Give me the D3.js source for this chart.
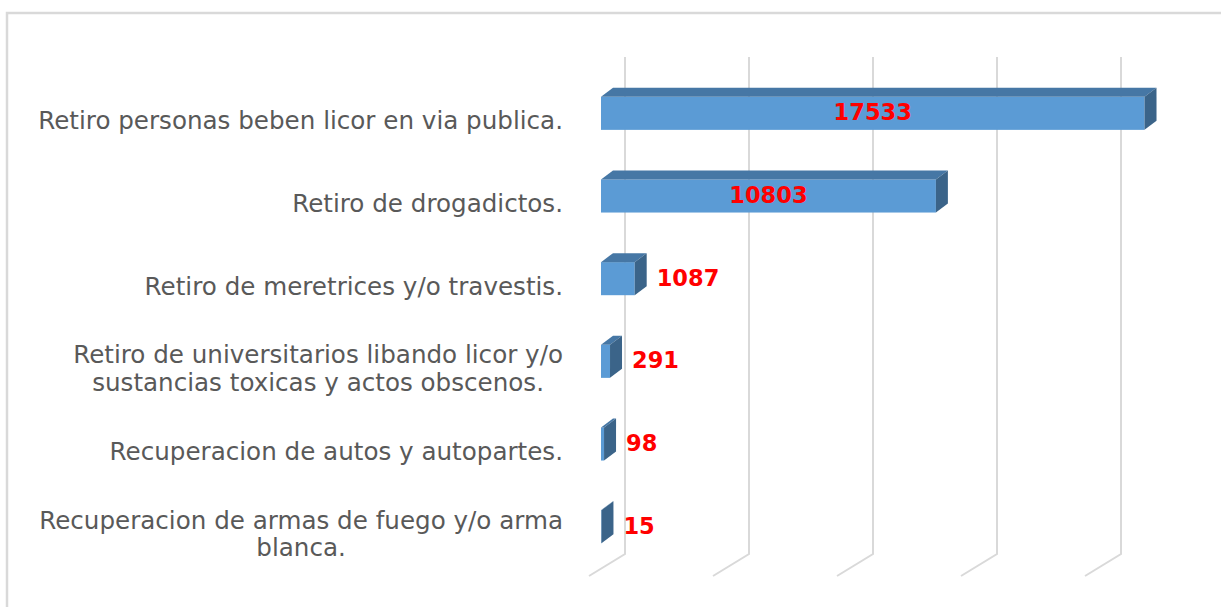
<!DOCTYPE html>
<html>
<head>
<meta charset="utf-8">
<script src="https://cdn.jsdelivr.net/npm/d3@7"></script>
<style>
  body { margin: 0; background: #fff; }
</style>
</head>
<body>
<div id="chart"></div>
<script>
// Datos del grafico (de arriba hacia abajo)
const categorias = [
    ["Retiro personas beben licor en via publica."],
    ["Retiro de drogadictos."],
    ["Retiro de meretrices y/o travestis."],
    ["Retiro de universitarios libando licor y/o", "sustancias toxicas y actos obscenos."],
    ["Recuperacion de autos y autopartes."],
    ["Recuperacion de armas de fuego y/o arma", "blanca."]
];
const valores = [17533, 10803, 1087, 291, 98, 15];
const ticksX = [0, 4000, 8000, 12000, 16000];

const width = 1221, height = 607;

const svg = d3.select("#chart")
    .append("svg")
    .attr("width", width)
    .attr("height", height);

// marco del grafico
svg.append("rect")
    .attr("x", 7).attr("y", 13)
    .attr("width", 1300).attr("height", 700)
    .attr("fill", "none")
    .attr("stroke", "#d9d9d9")
    .attr("stroke-width", 2.5);

// escala sobre la pared del fondo
const xScale = d3.scaleLinear().domain([0, 16000]).range([625, 1121]);
const yScale = d3.scaleBand()
    .domain(d3.range(categorias.length))
    .range([72, 568])
    .paddingInner(0.6)
    .paddingOuter(0.3);

// desplazamientos de la perspectiva
const frente = { dx: -24 };          // cara frontal de las barras respecto al fondo
const prof = { dx: 12, dy: -9 };     // profundidad de la barra
const piso = { dx: -36, dy: 22 };    // profundidad del piso
const paredTop = 57, paredBottom = 554;

// lineas de division
svg.append("g")
    .selectAll("path")
    .data(ticksX)
    .enter()
    .append("path")
    .attr("d", d => {
        const x = xScale(d);
        return `M${x},${paredTop}L${x},${paredBottom}L${x + piso.dx},${paredBottom + piso.dy}`;
    })
    .attr("fill", "none")
    .attr("stroke", "#d9d9d9")
    .attr("stroke-width", 2);

// barras 3D
const barras = svg.append("g")
    .selectAll("g")
    .data(valores)
    .enter()
    .append("g");

const geo = (d, i) => {
    const x0 = xScale(0) + frente.dx;
    const x1 = xScale(d) + frente.dx;
    const y0 = yScale(i);
    const y1 = y0 + yScale.bandwidth();
    return { x0, x1, y0, y1 };
};

barras.append("rect")
    .attr("x", (d, i) => geo(d, i).x0)
    .attr("y", (d, i) => geo(d, i).y0)
    .attr("width", (d, i) => geo(d, i).x1 - geo(d, i).x0)
    .attr("height", yScale.bandwidth())
    .attr("fill", "#5b9bd5");

barras.append("polygon")
    .attr("points", (d, i) => {
        const g = geo(d, i);
        return [[g.x0, g.y0], [g.x1, g.y0], [g.x1 + prof.dx, g.y0 + prof.dy], [g.x0 + prof.dx, g.y0 + prof.dy]].join(" ");
    })
    .attr("fill", "#4677a5");

barras.append("polygon")
    .attr("points", (d, i) => {
        const g = geo(d, i);
        return [[g.x1, g.y0], [g.x1 + prof.dx, g.y0 + prof.dy], [g.x1 + prof.dx, g.y1 + prof.dy], [g.x1, g.y1]].join(" ");
    })
    .attr("fill", "#3b6489");

// etiquetas de datos
svg.append("g")
    .selectAll("text")
    .data(valores)
    .enter()
    .append("text")
    .attr("x", (d, i) => {
        const g = geo(d, i);
        return d > 5000 ? (g.x0 + g.x1) / 2 : g.x1 + 22;
    })
    .attr("y", (d, i) => yScale(i) + yScale.bandwidth() / 2 - 1)
    .attr("dy", "0.36em")
    .attr("text-anchor", d => d > 5000 ? "middle" : "start")
    .attr("fill", "#ff0000")
    .style("font-family", "DejaVu Sans, sans-serif")
    .style("font-weight", "bold")
    .style("font-size", "22.5px")
    .text(d => d);

// etiquetas de categorias
const labelRight = 563, lineH = 27.5;
const cats = svg.append("g")
    .selectAll("text")
    .data(categorias)
    .enter()
    .append("text")
    .attr("fill", "#595959")
    .style("font-family", "DejaVu Sans, sans-serif")
    .style("font-size", "24.6px");

cats.each(function (lines, i) {
    const t = d3.select(this);
    const cy = yScale(i) + yScale.bandwidth() / 2 + 7;
    lines.forEach((s, k) => {
        t.append("tspan")
            .attr("y", cy + (k - (lines.length - 1) / 2) * lineH)
            .attr("dy", "0.36em")
            .text(s);
    });
    const w = d3.max(t.selectAll("tspan").nodes(), n => n.getComputedTextLength());
    t.attr("text-anchor", "middle");
    t.selectAll("tspan").attr("x", labelRight - w / 2);
});
</script>
</body>
</html>
